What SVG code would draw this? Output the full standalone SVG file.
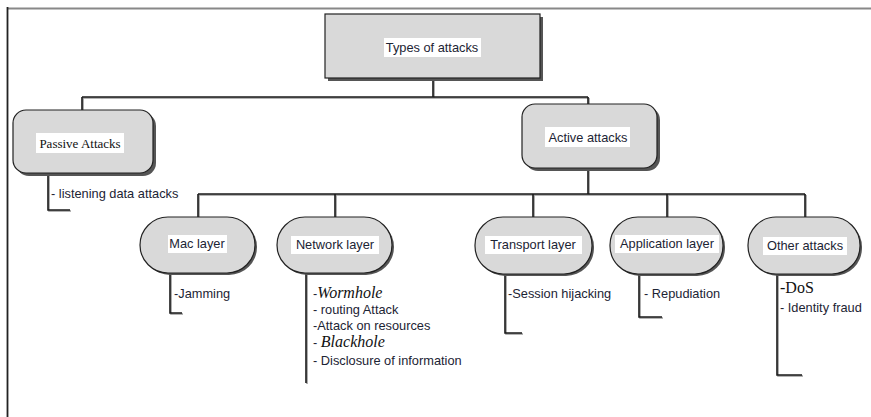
<svg xmlns="http://www.w3.org/2000/svg" width="871" height="417" viewBox="0 0 871 417">
<style>
.ln{fill:none;stroke:#1a1a1a;stroke-width:1.6}
.sh{fill:none;stroke:#9a9a9a;stroke-width:1.6}
.box{fill:#d9d9d9;stroke:#222;stroke-width:1.2}
.bsh{fill:#555}
.bg{fill:#fff}
.t{font-family:"Liberation Sans",Arial,sans-serif;font-size:12.8px;fill:#1c2434}
.c{text-anchor:middle}
.s{font-family:"Liberation Serif","Times New Roman",serif;fill:#111}
.i{font-style:italic;font-size:16px}
</style>
<rect x="0" y="0" width="871" height="417" fill="#fff"/>
<line x1="7" y1="8.5" x2="871" y2="8.5" stroke="#888" stroke-width="2"/>
<line x1="7.5" y1="7" x2="7.5" y2="417" stroke="#222" stroke-width="1.8"/>
<g id="connectors">
<g transform="translate(1,1)" class="sh">
<path d="M433 78V97M82 97H588M82 97V110M588 97V104"/>
<path d="M588 168V194M198 194H805M198 194V217M335 194V217M533 194V217M667 194V217M805 194V217"/>
<path d="M48 173V210H70"/>
<path d="M170 273V313H182"/>
<path d="M306 273V383"/>
<path d="M505 275V333H522"/>
<path d="M639 275V317H662"/>
<path d="M777 273V375H802"/>
</g>
<g class="ln">
<path d="M433 78V97M82 97H588M82 97V110M588 97V104"/>
<path d="M588 168V194M198 194H805M198 194V217M335 194V217M533 194V217M667 194V217M805 194V217"/>
<path d="M48 173V210H70"/>
<path d="M170 273V313H182"/>
<path d="M306 273V383"/>
<path d="M505 275V333H522"/>
<path d="M639 275V317H662"/>
<path d="M777 273V375H802"/>
</g>
</g>
<g id="types">
<rect class="bsh" x="328" y="17" width="215" height="64"/>
<rect class="box" x="325" y="14" width="215" height="64"/>
<rect class="bg" x="384" y="38" width="97" height="19"/>
<text class="t c" x="432" y="52">Types of attacks</text>
</g>
<g id="passive">
<rect class="bsh" x="16" y="113" width="140" height="63" rx="13"/>
<rect class="box" x="13" y="110" width="140" height="63" rx="13"/>
<rect class="bg" x="36" y="133" width="88" height="20"/>
<text class="s c" x="80" y="148" font-size="13">Passive Attacks</text>
</g>
<g id="active">
<rect class="bsh" x="525" y="107" width="135" height="64" rx="13"/>
<rect class="box" x="522" y="104" width="135" height="64" rx="13"/>
<rect class="bg" x="545" y="127" width="85" height="20"/>
<text class="t c" x="588" y="142">Active attacks</text>
</g>
<g id="mac">
<rect class="bsh" x="142" y="219" width="115" height="56" rx="28"/>
<rect class="box" x="140" y="217" width="115" height="56" rx="28"/>
<rect class="bg" x="168" y="235" width="59" height="18"/>
<text class="t c" x="197" y="248">Mac layer</text>
</g>
<g id="network">
<rect class="bsh" x="279" y="219" width="115" height="56" rx="28"/>
<rect class="box" x="277" y="217" width="115" height="56" rx="28"/>
<rect class="bg" x="291" y="236" width="88" height="18"/>
<text class="t c" x="335" y="249">Network layer</text>
</g>
<g id="transport">
<rect class="bsh" x="477" y="219" width="117" height="57" rx="28"/>
<rect class="box" x="475" y="217" width="117" height="57" rx="28"/>
<rect class="bg" x="485" y="236" width="97" height="18"/>
<text class="t c" x="533" y="249">Transport layer</text>
</g>
<g id="application">
<rect class="bsh" x="612" y="219" width="113" height="57" rx="28"/>
<rect class="box" x="610" y="217" width="113" height="57" rx="28"/>
<rect class="bg" x="615" y="235" width="104" height="18"/>
<text class="t c" x="667" y="248">Application layer</text>
</g>
<g id="other">
<rect class="bsh" x="750" y="219" width="112" height="57" rx="28"/>
<rect class="box" x="748" y="217" width="112" height="57" rx="28"/>
<rect class="bg" x="763" y="237" width="84" height="18"/>
<text class="t c" x="805" y="250">Other attacks</text>
</g>
<g id="labels">
<text class="t" x="51" y="198">- listening data attacks</text>
<text class="t" x="174" y="298">-Jamming</text>
<text class="t" x="313" y="298">-<tspan class="s i">Wormhole</tspan></text>
<text class="t" x="313" y="314">- routing Attack</text>
<text class="t" x="313" y="330">-Attack on resources</text>
<text class="t" x="313" y="347">-  <tspan class="s i">Blackhole</tspan></text>
<text class="t" x="313" y="365">- Disclosure of information</text>
<text class="t" x="508" y="298">-Session hijacking</text>
<text class="t" x="644" y="298">- Repudiation</text>
<text class="s" x="780" y="293" font-size="16">-DoS</text>
<text class="t" x="780" y="312">- Identity fraud</text>
</g>
</svg>
